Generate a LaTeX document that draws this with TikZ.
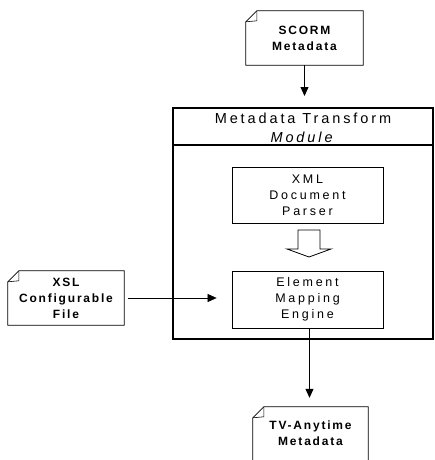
\documentclass[tikz,border=0pt]{standalone}
\usepackage{fontspec}
\setmainfont{Liberation Sans}
\newfontfamily\docfnt[LetterSpace=15]{Liberation Sans}
\newfontfamily\boxfnt[LetterSpace=22]{Liberation Sans}
\newfontfamily\ttlfnt[LetterSpace=20]{Liberation Sans}
\usetikzlibrary{arrows.meta}
\newcommand\docshape[2]{%
  \draw[line width=0.8pt] ([yshift=-11pt]#1.north west) -- ([xshift=11pt]#1.north west) -- (#1.north east) -- ([yshift=-#2]#1.south east) -- ([yshift=-#2]#1.south west) -- cycle;
  \draw[line width=0.6pt] ([yshift=-11pt]#1.north west) -- ([xshift=11pt,yshift=-10pt]#1.north west) -- ([xshift=11pt]#1.north west);
}
\begin{document}
\begin{tikzpicture}[x=1pt,y=-1pt,
  doc/.style={minimum width=116pt, minimum height=54pt, inner sep=0pt, align=center,
    font=\docfnt\bfseries\fontsize{12}{16}\selectfont},
  box/.style={draw, line width=0.8pt, minimum width=151pt, minimum height=56pt, inner sep=0pt,
    align=center, font=\boxfnt\fontsize{12.5}{16}\selectfont},
  arr/.style={-{Triangle[length=9pt,width=8pt]}, line width=0.8pt}]
\useasboundingbox (0,0) rectangle (435,460);

% module
\node[draw, line width=2pt, minimum width=260pt, minimum height=231pt, inner sep=0pt] (module) at (303,223.5) {};
\draw[line width=2pt] ([yshift=-38pt]module.north west) -- ([yshift=-38pt]module.north east);
\node[align=center, inner sep=0pt, font=\ttlfnt\fontsize{14.5}{19}\selectfont] (title) at (303,127.5) {Metadata Transform\\\textit{Module}};

% inner boxes
\node[box] (xml) at (307.5,195) {XML\\Document\\Parser};
\node[box, minimum height=57pt] (elem) at (307.5,299.5) {Element\\Mapping\\Engine};

% block arrow
\draw[line width=0.8pt, fill=white] (298,230) -- (320,230) -- (320,249) -- (331,249) -- (309,257) -- (287,249) -- (298,249) -- cycle;

% documents
\node[doc, minimum width=117pt] (scorm) at (304.5,38) {SCORM\\Metadata};
\docshape{scorm}{0pt}
\node[doc] (xsl) at (66,298) {XSL\\Configurable\\File};
\docshape{xsl}{0pt}
\node[doc, minimum width=115pt, minimum height=52pt] (tv) at (310.5,433) {TV-Anytime\\Metadata};
\docshape{tv}{14pt}

% connectors
\draw[arr, shorten >=11pt] (scorm.south) -- (scorm.south |- module.north);
\draw[arr, line width=0.6pt, shorten <=4pt, shorten >=15pt] (xsl.east) -- (xsl.east -| elem.west);
\draw[arr, shorten >=9pt] ([xshift=2pt]elem.south) -- ([xshift=2pt]elem.south |- tv.north);
\end{tikzpicture}
\end{document}
